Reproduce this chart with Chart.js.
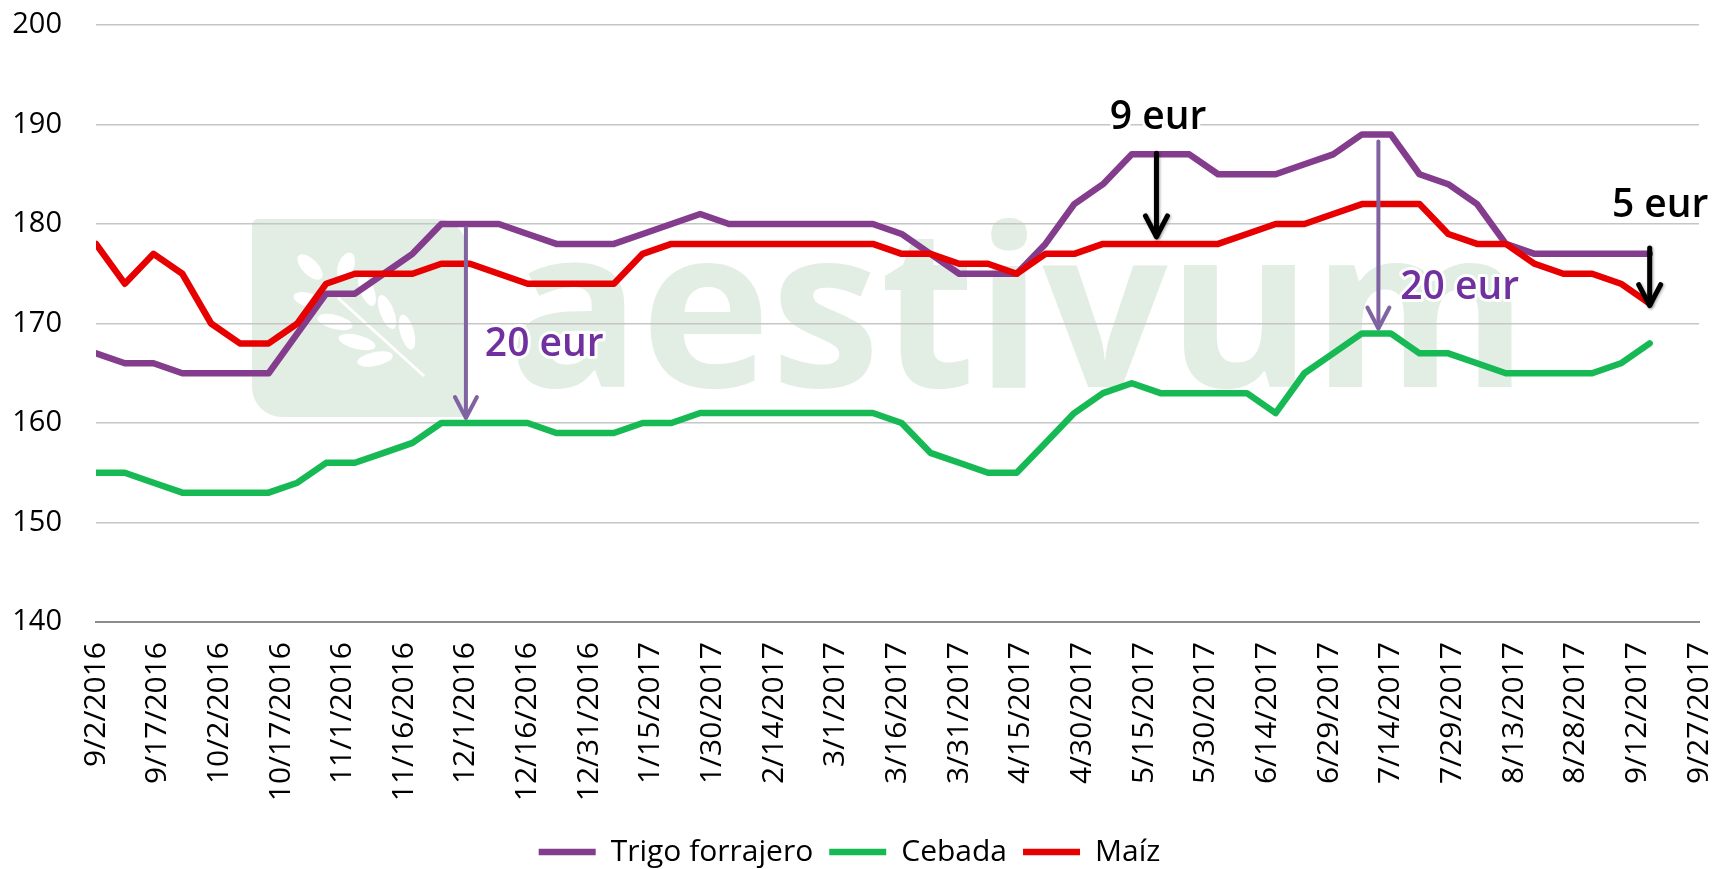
<!DOCTYPE html>
<html lang="es">
<head>
    <meta charset="UTF-8">
    <title>Trigo forrajero, cebada y maíz</title>
    <script src="https://cdn.jsdelivr.net/npm/chart.js"></script>
    <style>
        html, body { margin: 0; padding: 0; background: #fff; }
        #wrap { width: 1715px; height: 869px; position: relative; }
    </style>
</head>
<body>
<div id="wrap"><canvas id="grafico"></canvas></div>
<script>
    // fechas semanales (viernes)
    const fechas = [
        '2016-09-02', '2016-09-09', '2016-09-16', '2016-09-23', '2016-09-30',
        '2016-10-07', '2016-10-14', '2016-10-21', '2016-10-28',
        '2016-11-04', '2016-11-11', '2016-11-18', '2016-11-25',
        '2016-12-02', '2016-12-09', '2016-12-16', '2016-12-23', '2016-12-30',
        '2017-01-06', '2017-01-13', '2017-01-20', '2017-01-27',
        '2017-02-03', '2017-02-10', '2017-02-17', '2017-02-24',
        '2017-03-03', '2017-03-10', '2017-03-17', '2017-03-24', '2017-03-31',
        '2017-04-07', '2017-04-14', '2017-04-21', '2017-04-28',
        '2017-05-05', '2017-05-12', '2017-05-19', '2017-05-26',
        '2017-06-02', '2017-06-09', '2017-06-16', '2017-06-23', '2017-06-30',
        '2017-07-07', '2017-07-14', '2017-07-21', '2017-07-28',
        '2017-08-04', '2017-08-11', '2017-08-18', '2017-08-25',
        '2017-09-01', '2017-09-08', '2017-09-15'
    ];

    const trigo = [167, 166, 166, 165, 165, 165, 165, 169, 173, 173, 175, 177, 180, 180, 180, 179, 178, 178,
        178, 179, 180, 181, 180, 180, 180, 180, 180, 180, 179, 177, 175, 175, 175, 178, 182, 184, 187, 187,
        187, 185, 185, 185, 186, 187, 189, 189, 185, 184, 182, 178, 177, 177, 177, 177, 177];
    const cebada = [155, 155, 154, 153, 153, 153, 153, 154, 156, 156, 157, 158, 160, 160, 160, 160, 159, 159,
        159, 160, 160, 161, 161, 161, 161, 161, 161, 161, 160, 157, 156, 155, 155, 158, 161, 163, 164, 163,
        163, 163, 163, 161, 165, 167, 169, 169, 167, 167, 166, 165, 165, 165, 165, 166, 168];
    const maiz = [178, 174, 177, 175, 170, 168, 168, 170, 174, 175, 175, 175, 176, 176, 175, 174, 174, 174,
        174, 177, 178, 178, 178, 178, 178, 178, 178, 178, 177, 177, 176, 176, 175, 177, 177, 178, 178, 178,
        178, 178, 179, 180, 180, 181, 182, 182, 182, 179, 178, 178, 176, 175, 175, 174, 172];

    // eje X: días desde 2/9/2016, marcas cada 15 días hasta 27/9/2017
    const inicio = Date.UTC(2016, 8, 2);
    const DIA = 86400000;
    const diasMax = 390;
    const pasoTicks = 15;

    // flechas y rótulos (día, valor)
    const flechas = [
        { dia: 90, desde: 179.6, hasta: 160.5, color: '#8064a2', ancho: 4, sombra: false },
        { dia: 258, desde: 187.1, hasta: 178.7, color: '#000000', ancho: 5, sombra: true },
        { dia: 312, desde: 188.3, hasta: 169.5, color: '#8064a2', ancho: 4, sombra: false },
        { dia: 378, desde: 177.6, hasta: 171.8, color: '#000000', ancho: 5, sombra: true }
    ];
    const rotulos = [
        { texto: '20 eur', dia: 94.6, valor: 167.9, color: '#7030a0', alinear: 'left' },
        { texto: '9 eur', dia: 258.4, valor: 190.7, color: '#000000', alinear: 'center' },
        { texto: '20 eur', dia: 317.3, valor: 173.6, color: '#7030a0', alinear: 'left' },
        { texto: '5 eur', dia: 392.3, valor: 181.8, color: '#000000', alinear: 'right' }
    ];

    const dias = fechas.map(f => Math.round((Date.parse(f + 'T00:00:00Z') - inicio) / DIA));

    function fechaTexto(d) {
        const f = new Date(inicio + d * DIA);
        return (f.getUTCMonth() + 1) + '/' + f.getUTCDate() + '/' + f.getUTCFullYear();
    }

    // marca de agua "aestivum"
    const marcaAgua = {
        id: 'marcaAgua',
        beforeDraw(chart) {
            const ctx = chart.ctx;
            ctx.save();
            ctx.fillStyle = '#e2ede4';
            ctx.beginPath();
            ctx.roundRect(252, 219, 215, 198, [6, 30, 6, 30]);
            ctx.fill();

            // hojas
            ctx.fillStyle = '#ffffff';
            const hojas = [
                [310, 267, 16, 8, 0.8], [346, 266, 14, 8, -1.2], [308, 300, 15, 7, 0.3],
                [335, 322, 18, 7, 0.25], [357, 342, 19, 7, 0.25], [375, 359, 18, 7, -0.2],
                [367, 290, 17, 7, 1.2], [387, 312, 18, 7, 1.2], [407, 332, 18, 7, 1.3]
            ];
            hojas.forEach(h => {
                ctx.beginPath();
                ctx.ellipse(h[0], h[1], h[2], h[3], h[4], 0, Math.PI * 2);
                ctx.fill();
            });
            ctx.strokeStyle = '#ffffff';
            ctx.lineWidth = 3;
            ctx.beginPath();
            ctx.moveTo(338, 298);
            ctx.lineTo(424, 376);
            ctx.stroke();

            ctx.fillStyle = '#e2ede4';
            ctx.font = 'bold 222px "Open Sans"';
            ctx.textBaseline = 'alphabetic';
            const w = ctx.measureText('aestivum').width;
            ctx.translate(508, 387);
            ctx.scale(1020 / w, 1);
            ctx.fillText('aestivum', 0, 0);
            ctx.restore();
        }
    };

    // flechas y textos
    const anotaciones = {
        id: 'anotaciones',
        afterDatasetsDraw(chart) {
            const ctx = chart.ctx;
            const xs = chart.scales.x, ys = chart.scales.y;
            flechas.forEach(f => {
                const x = xs.getPixelForValue(f.dia);
                const y1 = ys.getPixelForValue(f.desde);
                const y2 = ys.getPixelForValue(f.hasta);
                ctx.save();
                if (f.sombra) {
                    ctx.shadowColor = 'rgba(0,0,0,0.35)';
                    ctx.shadowBlur = 3;
                    ctx.shadowOffsetX = 1;
                    ctx.shadowOffsetY = 1;
                }
                ctx.strokeStyle = f.color;
                ctx.lineWidth = f.ancho;
                ctx.lineCap = 'round';
                ctx.lineJoin = 'round';
                ctx.beginPath();
                ctx.moveTo(x, y1);
                ctx.lineTo(x, y2 - 1);
                ctx.stroke();
                ctx.beginPath();
                ctx.moveTo(x - 11, y2 - 21);
                ctx.lineTo(x, y2);
                ctx.lineTo(x + 11, y2 - 21);
                ctx.stroke();
                ctx.restore();
            });
            rotulos.forEach(r => {
                const x = xs.getPixelForValue(r.dia);
                const y = ys.getPixelForValue(r.valor);
                ctx.save();
                ctx.font = '600 39px "Open Sans"';
                ctx.textAlign = r.alinear;
                ctx.textBaseline = 'middle';
                ctx.lineWidth = 6;
                ctx.lineJoin = 'round';
                ctx.strokeStyle = 'rgba(255,255,255,0.9)';
                ctx.strokeText(r.texto, x, y);
                ctx.fillStyle = r.color;
                ctx.fillText(r.texto, x, y);
                ctx.restore();
            });
        }
    };

    const serie = (nombre, valores, color, orden) => ({
        label: nombre,
        data: valores,
        borderColor: color,
        backgroundColor: color,
        borderWidth: 6.5,
        pointRadius: 0,
        tension: 0,
        borderJoinStyle: 'round',
        borderCapStyle: 'round',
        fill: false,
        order: orden
    });

    const ctx = document.getElementById('grafico').getContext('2d');
    new Chart(ctx, {
        type: 'line',
        data: {
            labels: dias,
            datasets: [
                serie('Trigo forrajero', trigo, '#843c8c', 3),
                serie('Cebada', cebada, '#17b955', 2),
                serie('Maíz', maiz, '#e60000', 1)
            ]
        },
        options: {
            responsive: true,
            maintainAspectRatio: false,
            animation: false,
            layout: { padding: { top: 25, right: 16, bottom: -8, left: 0 } },
            font: { family: '"Open Sans", sans-serif' },
            plugins: {
                tooltip: { enabled: false },
                legend: {
                    position: 'bottom',
                    labels: {
                        usePointStyle: true,
                        pointStyle: 'line',
                        pointStyleWidth: 57,
                        padding: 16,
                        color: '#000',
                        font: { size: 30, family: '"Open Sans", sans-serif' },
                        sort: (a, b) => a.datasetIndex - b.datasetIndex
                    }
                }
            },
            scales: {
                x: {
                    type: 'linear',
                    min: 0,
                    max: diasMax,
                    afterFit: s => {
                        s.height = 199;
                        s.paddingLeft = 0;
                        s.paddingRight = 0;
                    },
                    afterBuildTicks: s => {
                        s.ticks = [];
                        for (let d = 0; d <= diasMax; d += pasoTicks) s.ticks.push({ value: d });
                    },
                    grid: { display: false },
                    border: { display: true, color: '#8c8c8c', width: 2 },
                    ticks: {
                        autoSkip: false,
                        minRotation: 90,
                        maxRotation: 90,
                        padding: 12,
                        color: '#000',
                        font: { size: 30, family: '"Open Sans", sans-serif' },
                        callback: v => fechaTexto(v)
                    }
                },
                y: {
                    min: 140,
                    max: 200,
                    afterFit: s => {
                        s.width = 96;
                        s.paddingTop = 0;
                        s.paddingBottom = 0;
                    },
                    grid: { color: '#c6c6c6', lineWidth: 1.5, drawTicks: false },
                    border: { display: false },
                    ticks: {
                        stepSize: 10,
                        padding: 34,
                        color: '#000',
                        font: { size: 29, family: '"Open Sans", sans-serif' }
                    }
                }
            }
        },
        plugins: [marcaAgua, anotaciones]
    });
</script>
</body>
</html>
